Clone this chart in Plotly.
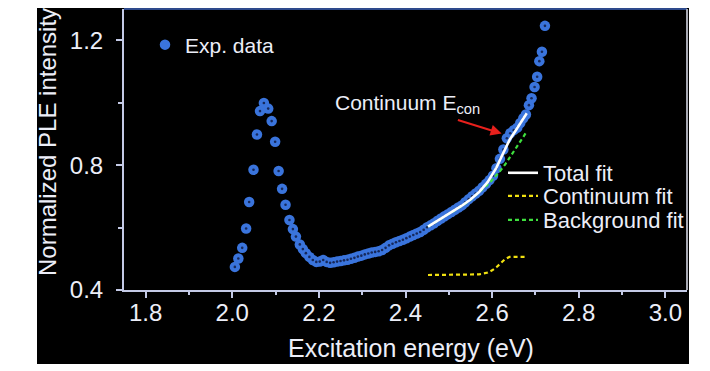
import plotly.graph_objects as go

# ---------------- data ----------------
exp_energy = [
    2.006, 2.014, 2.023, 2.032, 2.039, 2.049, 2.057, 2.064, 2.073, 2.083,
    2.091, 2.099, 2.107, 2.115, 2.123, 2.132, 2.140, 2.147, 2.156, 2.163,
    2.170, 2.178, 2.186, 2.194, 2.202, 2.210, 2.218, 2.226, 2.234, 2.242,
    2.250, 2.258, 2.266, 2.274, 2.282, 2.290, 2.298, 2.306, 2.314, 2.322,
    2.330, 2.338, 2.346, 2.354, 2.362, 2.370, 2.378, 2.386, 2.394, 2.402,
    2.410, 2.418, 2.426, 2.434, 2.442, 2.450, 2.458, 2.466, 2.474, 2.482,
    2.490, 2.498, 2.506, 2.514, 2.522, 2.530, 2.538, 2.546, 2.554, 2.562,
    2.570, 2.578, 2.586, 2.594, 2.602, 2.610, 2.618, 2.626, 2.634, 2.642,
    2.650, 2.658, 2.665, 2.672, 2.678, 2.685, 2.691, 2.698, 2.704, 2.709,
    2.715, 2.722,
]
exp_intensity = [
    0.474, 0.501, 0.535, 0.597, 0.682, 0.785, 0.898, 0.973, 0.999, 0.981,
    0.941, 0.875, 0.781, 0.724, 0.673, 0.624, 0.595, 0.571, 0.546, 0.531,
    0.518, 0.506, 0.496, 0.490, 0.491, 0.496, 0.490, 0.487, 0.489, 0.491,
    0.493, 0.495, 0.497, 0.500, 0.503, 0.507, 0.510, 0.514, 0.517, 0.520,
    0.522, 0.524, 0.528, 0.535, 0.543, 0.548, 0.553, 0.557, 0.561, 0.566,
    0.571, 0.576, 0.581, 0.586, 0.593, 0.601, 0.607, 0.614, 0.622, 0.629,
    0.636, 0.643, 0.650, 0.657, 0.664, 0.671, 0.681, 0.691, 0.700, 0.709,
    0.718, 0.729, 0.740, 0.752, 0.766, 0.790, 0.820, 0.850, 0.886, 0.902,
    0.912, 0.920, 0.935, 0.950, 0.962, 0.992, 1.014, 1.050, 1.083, 1.133,
    1.163, 1.246,
]

fit_energy = [2.452, 2.47, 2.49, 2.51, 2.53, 2.55, 2.57, 2.59, 2.60,
              2.61, 2.62, 2.63, 2.64, 2.65, 2.66, 2.67, 2.68]
total_fit = [0.603, 0.618, 0.634, 0.651, 0.670, 0.690, 0.714, 0.746, 0.767,
             0.792, 0.822, 0.853, 0.880, 0.901, 0.923, 0.944, 0.966]
background_fit = [0.603, 0.618, 0.634, 0.651, 0.669, 0.689, 0.712, 0.738, 0.752,
                  0.767, 0.784, 0.802, 0.822, 0.843, 0.865, 0.886, 0.908]
continuum_fit = [0.448, 0.448, 0.448, 0.448, 0.449, 0.449, 0.450, 0.456, 0.463,
                 0.473, 0.486, 0.499, 0.506, 0.506, 0.506, 0.506, 0.506]

x_ticks = [1.8, 2.0, 2.2, 2.4, 2.6, 2.8, 3.0]
x_tick_labels = ["1.8", "2.0", "2.2", "2.4", "2.6", "2.8", "3.0"]
y_ticks = [0.4, 0.8, 1.2]
y_tick_labels = ["0.4", "0.8", "1.2"]

# ---------------- style ----------------
FONT = "Liberation Sans, Arial, sans-serif"
TXT = "#eceef8"
AXC = "#c4cae6"
BLUE = "#3a74dc"
DOT = "#16285a"

fig = go.Figure()

fig.add_trace(go.Scatter(
    x=exp_energy, y=exp_intensity, mode="markers", name="Exp. data",
    marker=dict(color=BLUE, size=10.5, line=dict(width=0)),
    legend="legend",
))
fig.add_trace(go.Scatter(
    x=exp_energy, y=exp_intensity, mode="markers", showlegend=False,
    marker=dict(color=DOT, size=2.6, line=dict(width=0)), hoverinfo="skip",
))
fig.add_trace(go.Scatter(
    x=fit_energy, y=background_fit, mode="lines", name="Background fit",
    line=dict(color="#3ee03e", width=2.2, dash="4px,3px"),
    legend="legend4",
))
fig.add_trace(go.Scatter(
    x=fit_energy, y=continuum_fit, mode="lines", name="Continuum fit",
    line=dict(color="#f0e010", width=2.2, dash="4px,3px"),
    legend="legend3",
))
fig.add_trace(go.Scatter(
    x=fit_energy, y=total_fit, mode="lines", name="Total fit",
    line=dict(color="#ffffff", width=2.6),
    legend="legend2",
))

# page has an 8px body margin: figure occupies page px 8..710 / 8..371
OFF = 8
W, H = 702, 363
L, R, T, B = 116, 23, 1, 81
pw, ph = W - L - R, H - T - B


def px_x(px):
    return (px - OFF - L) / pw


def px_y(py):
    return (OFF + H - B - py) / ph


def leg(x_px, y_px, size):
    return dict(
        x=px_x(x_px), y=px_y(y_px), xanchor="left", yanchor="middle",
        bgcolor="rgba(0,0,0,0)", font=dict(size=size, color=TXT),
        itemwidth=30, tracegroupgap=0, borderwidth=0,
    )


fig.update_layout(
    width=W, height=H,
    margin=dict(l=L, r=R, t=T, b=B, pad=0),
    paper_bgcolor="white",
    plot_bgcolor="black",
    font=dict(family=FONT, color=TXT, size=22),
    showlegend=True,
    legend=leg(145, 45, 21),
    legend2=leg(503, 173, 22),
    legend3=leg(503, 196, 22),
    legend4=leg(503, 220, 22),
    xaxis=dict(
        range=[1.75, 3.05], tickmode="array", tickvals=x_ticks, ticktext=x_tick_labels,
        showgrid=False, zeroline=False, showline=True, linecolor=AXC, linewidth=2,
        ticks="outside", ticklen=6, tickwidth=1.5, tickcolor=AXC,
        tickfont=dict(size=24, color=TXT), ticklabelstandoff=-6,
        minor=dict(ticks="outside", ticklen=3, tickwidth=1.5, tickcolor=AXC,
                   tick0=1.7, dtick=0.1, showgrid=False),
    ),
    yaxis=dict(
        range=[0.4, 1.3], tickmode="array", tickvals=y_ticks, ticktext=y_tick_labels,
        showgrid=False, zeroline=False, showline=True, linecolor=AXC, linewidth=2,
        ticks="outside", ticklen=6, tickwidth=1.5, tickcolor=AXC,
        tickfont=dict(size=24, color=TXT), ticklabelstandoff=8,
        minor=dict(ticks="outside", ticklen=4, tickwidth=1.5, tickcolor=AXC,
                   tick0=0.2, dtick=0.2, showgrid=False),
    ),
    shapes=[
        dict(type="rect", xref="paper", yref="paper", layer="below",
             x0=px_x(37), x1=px_x(689), y0=px_y(364), y1=px_y(6),
             fillcolor="black", line=dict(width=0)),
        dict(type="line", xref="paper", yref="paper",
             x0=0, x1=1, y0=1, y1=1, line=dict(color="#2e4a8c", width=2)),
        dict(type="line", xref="paper", yref="paper",
             x0=1, x1=1, y0=0, y1=1, line=dict(color="#a8aab4", width=2)),
    ],
    annotations=[
        dict(text="Excitation energy (eV)", xref="paper", yref="paper",
             x=px_x(411), y=px_y(348), xanchor="center", yanchor="middle",
             showarrow=False, font=dict(size=25, color=TXT)),
        dict(text="Normalized PLE intensity", xref="paper", yref="paper",
             x=px_x(47), y=px_y(142), xanchor="center", yanchor="middle",
             textangle=-90, showarrow=False, font=dict(size=24, color=TXT)),
        dict(text="Continuum E<sub>con</sub>", xref="x", yref="y",
             axref="x", ayref="y",
             x=2.622, y=0.901, ax=2.405, ay=0.995,
             showarrow=True, arrowhead=2, arrowsize=1.1, arrowwidth=2,
             arrowcolor="#e8201c", standoff=0, startstandoff=4,
             font=dict(size=21, color=TXT)),
    ],
)

fig.write_html("out.html")
